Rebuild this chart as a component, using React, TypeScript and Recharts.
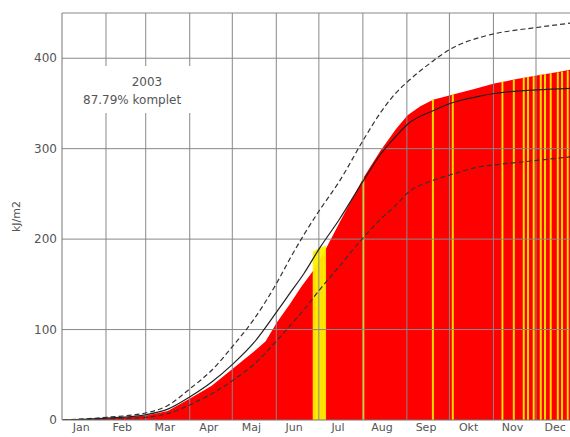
import React from 'react';
import { ComposedChart, Area, Line, Bar, XAxis, YAxis, ReferenceLine } from 'recharts';

// months (Danish), boundaries for grid lines and label positions (day of year)
const monthNames = ['Jan', 'Feb', 'Mar', 'Apr', 'Maj', 'Jun', 'Jul', 'Aug', 'Sep', 'Okt', 'Nov', 'Dec'];
const monthStartDays = [0, 31, 59, 90, 120, 151, 181, 212, 243, 273, 304, 334];
const monthLabelDays = [13, 42, 72, 103, 133, 163, 194, 225, 256, 286, 317, 347];

const yTicks = [0, 100, 200, 300, 400];
const yMinorTicks = [
  10, 20, 30, 40, 50, 60, 70, 80, 90, 110, 120, 130, 140, 150, 160, 170, 180, 190,
  210, 220, 230, 240, 250, 260, 270, 280, 290, 310, 320, 330, 340, 350, 360, 370, 380, 390,
  410, 420, 430, 440,
];

// 2003 cumulative radiation (red fill)
const actualDays = [0, 15, 31, 45, 59, 74, 90, 105, 120, 135, 143, 151, 160, 168, 177, 186, 195, 212, 224, 235, 243, 252, 261, 273, 290, 304, 320, 334, 350, 364];
const actualValues = [0, 1, 2, 3, 5, 10, 24, 38, 57, 76, 87, 108, 128, 147, 166, 191, 218, 268, 298, 322, 337, 347, 354, 359, 366, 372, 377, 381, 385, 389];

// days with incomplete data (yellow)
const missingDays = [177, 178, 179, 180, 181, 182, 183, 184, 185, 212, 261, 275, 310, 318, 325, 328, 332, 337, 340, 344, 349, 352, 356];
const missingValues = [186, 187, 188, 189, 190, 190, 191, 191, 192, 268, 354, 360, 374, 376, 378, 379, 380, 382, 382, 383, 384, 385, 386];

// normal curves: mean (solid), upper and lower (dashed)
const curveDays = [0, 31, 59, 74, 90, 105, 120, 135, 151, 160, 170, 181, 195, 212, 224, 235, 243, 261, 273, 294, 304, 334, 364];
const meanValues = [0, 2, 6, 12, 26, 42, 62, 86, 120, 140, 162, 190, 222, 265, 294, 314, 327, 342, 350, 358, 361, 365, 367];
const upperValues = [0, 3, 8, 16, 35, 55, 82, 112, 152, 178, 205, 232, 264, 310, 340, 362, 374, 397, 410, 423, 427, 434, 440];
const lowerValues = [0, 1, 3, 7, 17, 29, 44, 62, 88, 104, 122, 144, 170, 202, 222, 238, 251, 265, 271, 280, 282, 287, 292];

type Row = {
  day: number;
  actual: number | null;
  missing: number | null;
  mean: number | null;
  upper: number | null;
  lower: number | null;
};

const data: Row[] = [];
for (let d = 0; d < 365; d++) {
  data.push({ day: d, actual: null, missing: null, mean: null, upper: null, lower: null });
}
actualDays.forEach((d, i) => { data[d].actual = actualValues[i]; });
missingDays.forEach((d, i) => { data[d].missing = missingValues[i]; });
curveDays.forEach((d, i) => {
  data[d].mean = meanValues[i];
  data[d].upper = upperValues[i];
  data[d].lower = lowerValues[i];
});

const font = 'DejaVu Sans, sans-serif';
const textColor = '#555';

const App: React.FC = () => {
  return (
    <div style={{ position: 'absolute', left: 0, top: 0, width: 570, height: 437, overflow: 'hidden', background: '#fff', fontFamily: font }}>
      <ComposedChart
        width={585}
        height={437}
        data={data}
        margin={{ top: 13, right: 5, bottom: 0, left: 0 }}
        barCategoryGap={0}
        barGap={0}
      >
        <XAxis
          dataKey="day"
          type="category"
          ticks={monthLabelDays}
          interval={0}
          tickFormatter={(d: number) => monthNames[monthLabelDays.indexOf(d)]}
          tickLine={false}
          tickSize={2}
          tickMargin={1}
          height={17}
          axisLine={{ stroke: '#777' }}
          tick={{ fill: textColor, fontSize: 11, fontFamily: font }}
        />
        <YAxis
          domain={[0, 450]}
          ticks={yTicks}
          interval={0}
          allowDataOverflow
          width={62}
          tickLine={false}
          tickSize={3}
          tickMargin={2}
          axisLine={{ stroke: '#777' }}
          tick={{ fill: textColor, fontSize: 12, fontFamily: font }}
          label={{ value: 'kJ/m2', angle: -90, position: 'insideLeft', offset: 16, fill: textColor, fontSize: 11, fontFamily: font, style: { textAnchor: 'middle' } }}
        />
        <YAxis
          yAxisId="minor"
          domain={[0, 450]}
          ticks={yMinorTicks}
          interval={0}
          allowDataOverflow
          mirror
          width={0}
          axisLine={false}
          tickSize={5}
          tickLine={{ stroke: '#888' }}
          tickFormatter={() => ''}
        />

        {monthStartDays.slice(1).map(d => (
          <ReferenceLine key={`v-${d}`} x={d} position="start" stroke="#888" strokeWidth={1} />
        ))}
        {[100, 200, 300, 400, 450].map(v => (
          <ReferenceLine key={`h-${v}`} y={v} stroke="#888" strokeWidth={1} />
        ))}

        <Area
          dataKey="actual"
          type="linear"
          connectNulls
          stroke="none"
          fill="#ff0000"
          fillOpacity={1}
          isAnimationActive={false}
          dot={false}
          activeDot={false}
        />
        <Bar dataKey="missing" fill="#ffff00" stroke="#ffee00" strokeWidth={0.8} isAnimationActive={false} />
        <Line dataKey="upper" type="monotone" connectNulls stroke="#333" strokeWidth={1.2} strokeDasharray="5 3" dot={false} activeDot={false} isAnimationActive={false} />
        <Line dataKey="lower" type="monotone" connectNulls stroke="#333" strokeWidth={1.2} strokeDasharray="5 3" dot={false} activeDot={false} isAnimationActive={false} />
        <Line dataKey="mean" type="monotone" connectNulls stroke="#222" strokeWidth={1.2} dot={false} activeDot={false} isAnimationActive={false} />
      </ComposedChart>

      <div style={{ position: 'absolute', left: 78, top: 66, width: 118, height: 47, background: '#fff' }} />
      <div style={{ position: 'absolute', left: 78, top: 75, width: 138, textAlign: 'center', fontSize: 12, lineHeight: '14px', color: textColor }}>
        2003
      </div>
      <div style={{ position: 'absolute', left: 83, top: 93, fontSize: 12, lineHeight: '14px', color: textColor, whiteSpace: 'nowrap' }}>
        87.79% komplet
      </div>
    </div>
  );
};

export default App;
